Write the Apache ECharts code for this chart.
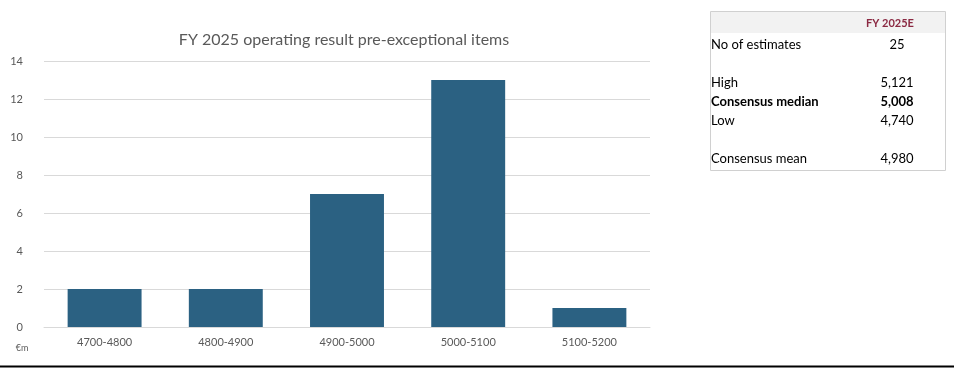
<!DOCTYPE html>
<html><head><meta charset="utf-8">
<script src="https://cdn.jsdelivr.net/npm/echarts@6/dist/echarts.min.js"></script>
<style>html,body{margin:0;padding:0;background:#fff}#c{width:954px;height:368px}</style>
</head><body><div id="c"></div>
<script>
const categories = ['4700-4800','4800-4900','4900-5000','5000-5100','5100-5200'];
const counts = [2, 2, 7, 13, 1];
const yTicks = [0, 2, 4, 6, 8, 10, 12, 14];
const tableHeader = 'FY 2025E';
const tableLabels = ['No of estimates', '', 'High', 'Consensus median', 'Low', '', 'Consensus mean'];
const tableValues = ['25', '', '5,121', '5,008', '4,740', '', '4,980'];
const tableBold = [false, false, false, true, false, false, false];

const FONT = 'Lato, "Open Sans", sans-serif';
const chart = echarts.init(document.getElementById('c'));

const graphics = [
  {type:'rect', shape:{x:710.5,y:11.5,width:235,height:159}, style:{fill:'#fff', stroke:'#d0d0d0', lineWidth:1}},
  {type:'rect', shape:{x:711,y:12,width:234,height:21}, style:{fill:'#f2f2f2'}},
  {type:'text', x:890, y:23, style:{text:tableHeader, fill:'#8b2942', font:'bold 11px '+FONT, textAlign:'center', textVerticalAlign:'middle'}},
  {type:'line', shape:{x1:0,y1:366.5,x2:954,y2:366.5}, style:{stroke:'#000', lineWidth:2}},
  {type:'text', x:22, y:348, style:{text:'€m', fill:'#595959', font:'9px '+FONT, textAlign:'center', textVerticalAlign:'middle'}}
];
tableLabels.forEach((lab, i) => {
  const y = 45 + i * 19;
  if (lab) graphics.push({type:'text', x:711, y:y, style:{text:lab, fill:'#000', font:(tableBold[i]?'bold ':'')+'13px '+FONT, textAlign:'left', textVerticalAlign:'middle'}});
  if (tableValues[i]) graphics.push({type:'text', x:897, y:y, style:{text:tableValues[i], fill:'#000', font:(tableBold[i]?'bold ':'')+'13px '+FONT, textAlign:'center', textVerticalAlign:'middle'}});
});

chart.setOption({
  animation:false,
  title:{text:'FY 2025 operating result pre-exceptional items', left:339, top:27, textAlign:'center',
    textStyle:{color:'#595959', fontSize:16, fontWeight:'normal', fontFamily:FONT}},
  grid:{left:44, right:304, top:61, bottom:41},
  xAxis:{type:'category', data:categories,
    axisLine:{lineStyle:{color:'#d9d9d9'}}, axisTick:{show:false},
    axisLabel:{color:'#595959', fontSize:11, fontFamily:FONT, margin:10}},
  yAxis:{type:'value', min:yTicks[0], max:yTicks[yTicks.length-1], interval:2,
    axisLine:{show:false}, axisTick:{show:false},
    splitLine:{lineStyle:{color:'#d9d9d9'}},
    axisLabel:{color:'#595959', fontSize:11, fontFamily:FONT, margin:21}},
  series:[{type:'bar', data:counts, barWidth:'61%', itemStyle:{color:'#2b6182'}}],
  graphic:graphics
});
</script></body></html>
